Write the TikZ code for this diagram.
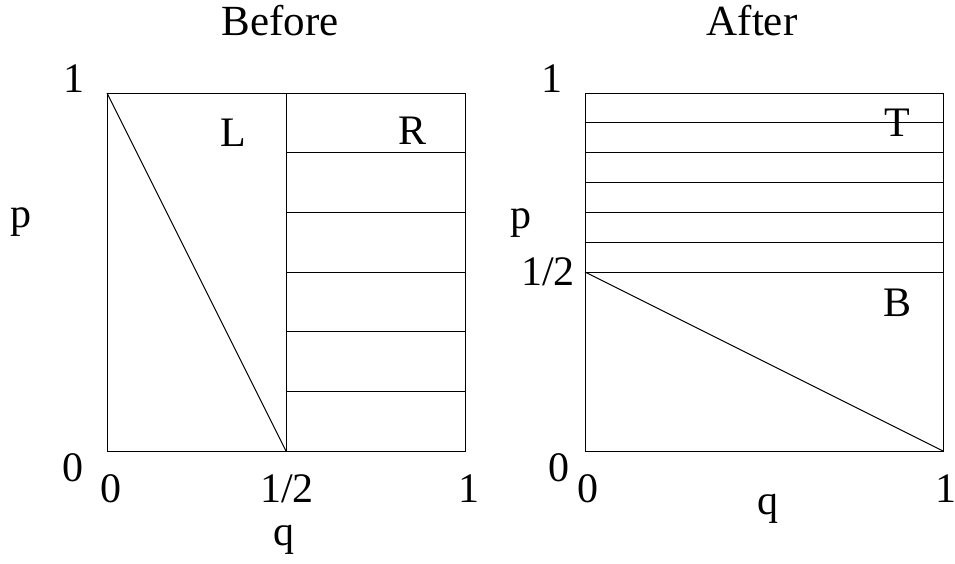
\documentclass[tikz,border=0pt]{standalone}
\usepackage{fontspec}
\setmainfont{Liberation Serif}
\begin{document}
\begin{tikzpicture}[x=1pt,y=-1pt,
  lbl/.style={inner sep=0pt,font=\fontsize{42}{50}\selectfont},
  ttl/.style={inner sep=0pt,font=\fontsize{43}{50}\selectfont},
  ln/.style={line width=0.9pt,black}]
\useasboundingbox (0,0) rectangle (955,563);
% ---- Before ----
\coordinate (A1) at (107,93);
\coordinate (A2) at (465,451);
\coordinate (Am) at (286,93);
\coordinate (Ab) at (286,451);
\draw[ln] (A1) rectangle (A2);
\draw[ln] (Am) -- (Ab);
\draw[ln] (A1) -- (Ab);
\foreach \k in {1,...,5}{
  \draw[ln] (286,{93+\k*358/6}) -- (465,{93+\k*358/6});
}
\node[ttl] (tb) at (280,21) {Before};
\node[lbl] (l1) at (74,79) {1};
\node[lbl] (l0) at (73,468) {0};
\node[lbl] (lp) at (21,222) {p};
\node[lbl] (lq0) at (111,489) {0};
\node[lbl] (lqh) at (287,489) {1/2};
\node[lbl] (lq1) at (469,489) {1};
\node[lbl] (lq) at (284,540) {q};
\node[lbl] (L) at (233,133) {L};
\node[lbl] (R) at (413,131) {R};
% ---- After ----
\coordinate (B1) at (585,93);
\coordinate (B2) at (943,451);
\coordinate (Bh) at (585,272);
\draw[ln] (B1) rectangle (B2);
\foreach \k in {1,...,6}{
  \draw[ln] (585,{93+\k*179/6}) -- (943,{93+\k*179/6});
}
\draw[ln] (Bh) -- (B2);
\node[ttl] (ta) at (752,21) {After};
\node[lbl] (r1) at (552,79) {1};
\node[lbl] (r0) at (559,468) {0};
\node[lbl] (rp) at (521,223) {p};
\node[lbl] (rh) at (548,272) {1/2};
\node[lbl] (rq0) at (588,489) {0};
\node[lbl] (rq1) at (946,489) {1};
\node[lbl] (rq) at (768,509) {q};
\node[lbl] (T) at (897,123) {T};
\node[lbl] (B) at (897,303) {B};
\end{tikzpicture}
\end{document}
